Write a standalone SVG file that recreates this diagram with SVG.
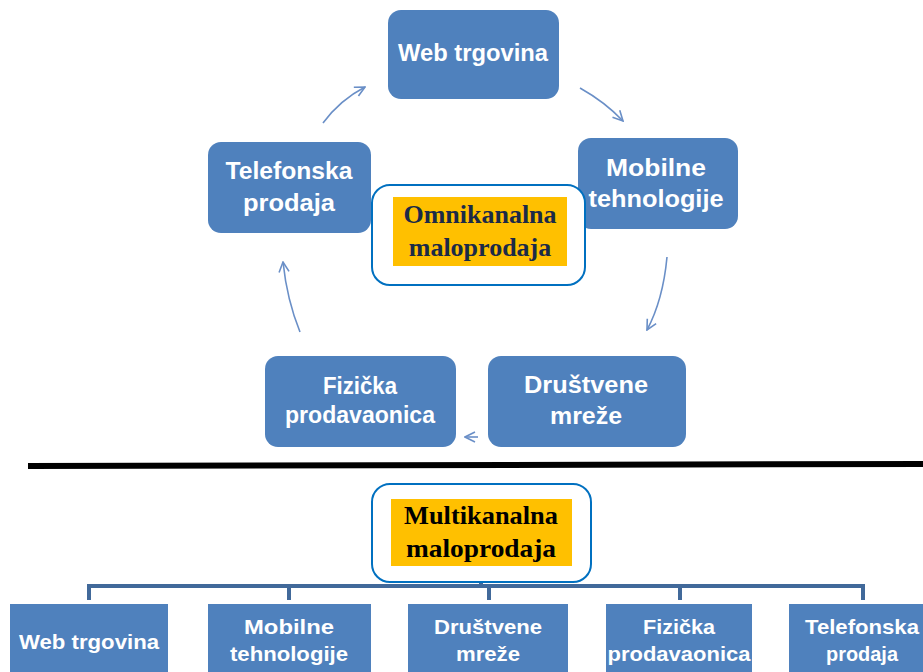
<svg xmlns="http://www.w3.org/2000/svg" width="923" height="672" viewBox="0 0 923 672">
<defs>
<style>
.node{fill:#4F81BD;}
.nt{font-family:"Liberation Sans",Arial,sans-serif;font-weight:bold;font-size:23px;fill:#FFFFFF;text-anchor:middle;}
.bt{font-family:"Liberation Sans",Arial,sans-serif;font-weight:bold;font-size:21px;fill:#FFFFFF;text-anchor:middle;}
.ct{font-family:"Liberation Serif","Times New Roman",serif;font-weight:bold;font-size:26px;text-anchor:middle;}
.arr{fill:none;stroke:#6A8FC7;stroke-width:1.6;marker-end:url(#ah);}
.br{fill:none;stroke:#41699A;stroke-width:4;}
</style>
<marker id="ah" viewBox="0 0 12 12" refX="11" refY="6" markerWidth="12" markerHeight="12" markerUnits="userSpaceOnUse" orient="auto">
<path d="M1,1 L11,6 L1,11" fill="none" stroke="#6A8FC7" stroke-width="1.6"/>
</marker>
</defs>
<rect width="923" height="672" fill="#FFFFFF"/>

<g id="connectors">
<path class="arr" d="M323,123 Q340,100 365,87"/>
<path class="arr" d="M580,88 Q605,102 623,121"/>
<path class="arr" d="M667,257 Q663,300 647,330"/>
<path class="arr" d="M478,437 L465,437"/>
<path class="arr" d="M300,332 Q287,300 283,262"/>
<path class="br" d="M89,600 V586 H863 V600 M289,586 V600 M489,586 V600 M680,586 V600 M481,582 V586"/>
</g>

<line x1="28" y1="466" x2="923" y2="464" stroke="#000000" stroke-width="6"/>

<g id="web">
<rect class="node" x="388" y="10" width="171" height="89" rx="13"/>
<text class="nt" x="473" y="61" textLength="150" lengthAdjust="spacingAndGlyphs">Web trgovina</text>
</g>
<g id="mobilne">
<rect class="node" x="578" y="138" width="160" height="91" rx="13"/>
<text class="nt" x="656" y="176" textLength="100" lengthAdjust="spacingAndGlyphs">Mobilne</text>
<text class="nt" x="656" y="207" textLength="135" lengthAdjust="spacingAndGlyphs">tehnologije</text>
</g>
<g id="telefonska">
<rect class="node" x="208" y="142" width="163" height="91" rx="13"/>
<text class="nt" x="289" y="179" textLength="127" lengthAdjust="spacingAndGlyphs">Telefonska</text>
<text class="nt" x="289" y="211" textLength="92" lengthAdjust="spacingAndGlyphs">prodaja</text>
</g>
<g id="fizicka">
<rect class="node" x="265" y="356" width="191" height="91" rx="13"/>
<text class="nt" x="360" y="394" textLength="74" lengthAdjust="spacingAndGlyphs">Fizička</text>
<text class="nt" x="360" y="423" textLength="150" lengthAdjust="spacingAndGlyphs">prodavaonica</text>
</g>
<g id="drustvene">
<rect class="node" x="488" y="356" width="198" height="91" rx="13"/>
<text class="nt" x="586" y="393" textLength="124" lengthAdjust="spacingAndGlyphs">Društvene</text>
<text class="nt" x="586" y="424" textLength="72" lengthAdjust="spacingAndGlyphs">mreže</text>
</g>
<g id="omni">
<rect x="372" y="185" width="213" height="100" rx="18" fill="#FFFFFF" stroke="#0070C0" stroke-width="2"/>
<rect x="393" y="197" width="174" height="69" fill="#FFC000"/>
<text class="ct" x="480" y="223" fill="#1B2A47">Omnikanalna</text>
<text class="ct" x="480" y="256" fill="#1B2A47">maloprodaja</text>
</g>

<g id="multi">
<rect x="372" y="484" width="219" height="98" rx="18" fill="#FFFFFF" stroke="#0070C0" stroke-width="2"/>
<rect x="391" y="499" width="181" height="67" fill="#FFC000"/>
<text class="ct" x="481" y="524" fill="#000000" textLength="154" lengthAdjust="spacingAndGlyphs">Multikanalna</text>
<text class="ct" x="481" y="557" fill="#000000" textLength="150" lengthAdjust="spacingAndGlyphs">maloprodaja</text>
</g>
<g id="b-web">
<rect class="node" x="10" y="604" width="158" height="68"/>
<text class="bt" x="89" y="649" textLength="140" lengthAdjust="spacingAndGlyphs">Web trgovina</text>
</g>
<g id="b-mobilne">
<rect class="node" x="208" y="604" width="163" height="68"/>
<text class="bt" x="289" y="634" textLength="90" lengthAdjust="spacingAndGlyphs">Mobilne</text>
<text class="bt" x="289" y="661" textLength="118" lengthAdjust="spacingAndGlyphs">tehnologije</text>
</g>
<g id="b-drustvene">
<rect class="node" x="408" y="604" width="160" height="68"/>
<text class="bt" x="488" y="634" textLength="108" lengthAdjust="spacingAndGlyphs">Društvene</text>
<text class="bt" x="488" y="661" textLength="64" lengthAdjust="spacingAndGlyphs">mreže</text>
</g>
<g id="b-fizicka">
<rect class="node" x="606" y="604" width="146" height="68"/>
<text class="bt" x="679" y="634" textLength="72" lengthAdjust="spacingAndGlyphs">Fizička</text>
<text class="bt" x="679" y="661" textLength="143" lengthAdjust="spacingAndGlyphs">prodavaonica</text>
</g>
<g id="b-telefonska">
<rect class="node" x="789" y="604" width="134" height="68"/>
<text class="bt" x="862" y="634" textLength="114" lengthAdjust="spacingAndGlyphs">Telefonska</text>
<text class="bt" x="862" y="661" textLength="72" lengthAdjust="spacingAndGlyphs">prodaja</text>
</g>
</svg>
